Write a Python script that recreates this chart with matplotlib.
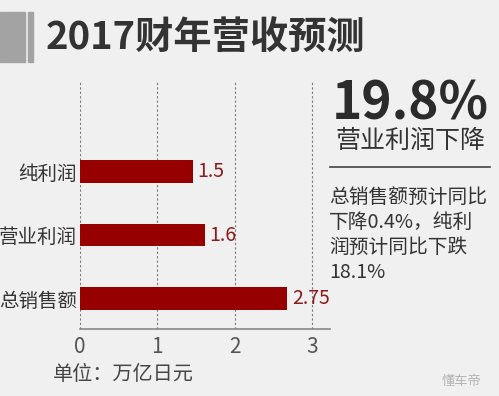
import matplotlib.pyplot as plt
from matplotlib.patches import Rectangle

plt.rcParams['font.family'] = ['Noto Sans CJK SC', 'DejaVu Sans']

# 数据
categories = ['总销售额', '营业利润', '纯利润']
bar_values = [2.68, 1.61, 1.46]          # 图中柱长
value_labels = ['2.75', '1.6', '1.5']    # 图中标注
xticks = [0, 1, 2, 3]
title = '2017财年营收预测'
big_number = '19.8%'
big_caption = '营业利润下降'
note = '总销售额预计同比\n下降0.4%，纯利\n润预计同比下跌\n18.1%'
unit = '单位：万亿日元'

bg = '#f0f0f0'
bar_color = '#960000'
W, H = 499, 396

fig = plt.figure(figsize=(W / 100, H / 100), dpi=100, facecolor=bg)

def fx(px):
    return px / W

def fy(py):
    return 1 - py / H

# 标题左侧灰块
fig.patches.append(Rectangle((fx(0), fy(62)), fx(25), 50 / H, transform=fig.transFigure,
                             color='#a3a3a3', zorder=0))
fig.patches.append(Rectangle((fx(28), fy(62)), fx(5), 50 / H, transform=fig.transFigure,
                             color='#a3a3a3', zorder=0))
fig.text(fx(46), fy(38), title, fontsize=27.5, fontweight='bold', color='#333333',
         va='center', ha='left')

ax = fig.add_axes([fx(80), fy(329), fx(250), 247 / H])
ax.set_facecolor(bg)
ypos = list(range(len(categories)))
ax.barh(ypos, bar_values, height=0.36, color=bar_color, zorder=3)
for y, v, lab in zip(ypos, bar_values, value_labels):
    ax.text(v + 0.06, y, lab, fontsize=14, color='#8b1a1a', va='center', ha='left', zorder=4)

ax.set_xlim(0, 3.23)
ax.set_ylim(-0.48, 3.41)
ax.set_yticks(ypos)
ax.set_yticklabels(categories, fontsize=14, color='#333333')
ax.set_xticks(xticks)
ax.set_xticklabels([str(t) for t in xticks], fontsize=15, color='#555555')
ax.tick_params(length=0, pad=2)
ax.tick_params(axis='x', pad=5)
for t in xticks:
    ax.axvline(t, color='#777777', linestyle=(0, (2, 2)), linewidth=0.8, zorder=1)
for s in ['top', 'right', 'left']:
    ax.spines[s].set_visible(False)
ax.spines['bottom'].set_color('#888888')
ax.spines['bottom'].set_linewidth(1.2)

fig.text(fx(53), fy(375), unit, fontsize=14.5, color='#444444', va='center', ha='left')

# 右侧说明
fig.text(fx(410), fy(104), big_number, fontsize=37, fontweight='bold', color='#2b2b2b',
         va='center', ha='center')
fig.text(fx(410), fy(141), big_caption, fontsize=18, color='#333333', va='center', ha='center')
fig.add_artist(plt.Line2D([fx(330), fx(490)], [fy(167), fy(167)], color='#444444', linewidth=1.2))
fig.text(fx(329), fy(187), note, fontsize=14.2, color='#333333', va='top', ha='left',
         linespacing=1.24)

fig.text(fx(462), fy(382), '懂车帝', fontsize=9.5, color='#b5b5b5', va='center', ha='center')

fig.savefig('out.png', dpi=100, facecolor=bg)
